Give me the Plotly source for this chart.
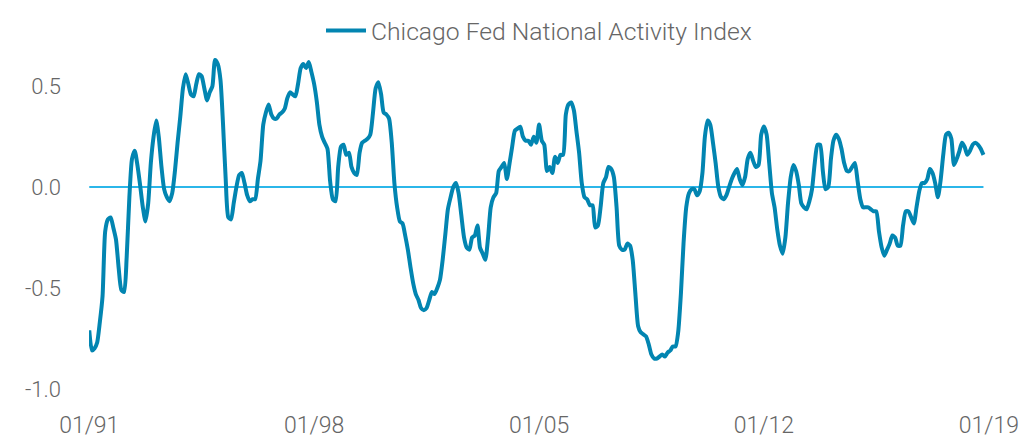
import pandas as pd
import plotly.graph_objects as go

# Monthly Chicago Fed National Activity Index readings, Jan 1991 onward
cfnai = [
    -0.71, -0.81, -0.80, -0.77, -0.67, -0.54, -0.22, -0.16, -0.15, -0.20,
    -0.26, -0.40, -0.51, -0.52, -0.35, -0.05, 0.14, 0.18, 0.11, 0.01,
    -0.10, -0.17, -0.08, 0.12, 0.25, 0.33, 0.25, 0.10, -0.01, -0.05,
    -0.07, -0.03, 0.08, 0.22, 0.35, 0.49, 0.56, 0.51, 0.46, 0.45,
    0.51, 0.56, 0.55, 0.49, 0.43, 0.47, 0.50, 0.63, 0.61, 0.53,
    0.32, 0.04, -0.15, -0.16, -0.08, 0.00, 0.06, 0.07, 0.02, -0.04,
    -0.07, -0.06, -0.06, 0.04, 0.13, 0.31, 0.37, 0.41, 0.36, 0.34,
    0.34, 0.36, 0.37, 0.39, 0.44, 0.47, 0.46, 0.45, 0.51, 0.59,
    0.61, 0.59, 0.62, 0.57, 0.51, 0.42, 0.31, 0.25, 0.22, 0.19,
    0.03, -0.06, -0.07, 0.10, 0.20, 0.21, 0.16, 0.17, 0.10, 0.07,
    0.06, 0.17, 0.22, 0.23, 0.24, 0.26, 0.37, 0.49, 0.52, 0.46,
    0.37, 0.36, 0.34, 0.22, 0.02, -0.10, -0.17, -0.18, -0.24, -0.31,
    -0.40, -0.48, -0.53, -0.56, -0.60, -0.61, -0.60, -0.56, -0.52, -0.53,
    -0.50, -0.46, -0.36, -0.23, -0.11, -0.05, 0.00, 0.02, -0.03, -0.14,
    -0.25, -0.30, -0.31, -0.25, -0.24, -0.19, -0.30, -0.33, -0.36, -0.25,
    -0.10, -0.05, -0.03, 0.08, 0.10, 0.12, 0.04, 0.12, 0.20, 0.28,
    0.29, 0.30, 0.25, 0.23, 0.23, 0.21, 0.25, 0.22, 0.31, 0.23,
    0.21, 0.08, 0.10, 0.07, 0.15, 0.12, 0.16, 0.16, 0.36, 0.41,
    0.42, 0.38, 0.28, 0.17, 0.02, -0.05, -0.06, -0.09, -0.09, -0.20,
    -0.19, -0.10, 0.02, 0.05, 0.10, 0.09, 0.05, -0.10, -0.29, -0.31,
    -0.31, -0.28, -0.29, -0.36, -0.53, -0.69, -0.72, -0.73, -0.74, -0.78,
    -0.83, -0.85, -0.85, -0.84, -0.83, -0.84, -0.82, -0.81, -0.79, -0.79,
    -0.72, -0.53, -0.28, -0.10, -0.03, -0.01, -0.01, -0.04, -0.02, 0.07,
    0.25, 0.33, 0.31, 0.22, 0.12, 0.00, -0.05, -0.06, -0.04, 0.00,
    0.04, 0.07, 0.09, 0.04, 0.01, 0.05, 0.14, 0.17, 0.13, 0.10,
    0.11, 0.26, 0.30, 0.26, 0.12, -0.03, -0.10, -0.21, -0.29, -0.33,
    -0.25, -0.08, 0.05, 0.11, 0.08, 0.01, -0.08, -0.10, -0.11, -0.07,
    -0.01, 0.12, 0.21, 0.21, 0.08, -0.01, 0.00, 0.14, 0.23, 0.26,
    0.24, 0.19, 0.12, 0.08, 0.08, 0.10, 0.12, 0.03, -0.06, -0.10,
    -0.10, -0.10, -0.11, -0.12, -0.12, -0.22, -0.30, -0.34, -0.31, -0.28,
    -0.24, -0.25, -0.29, -0.29, -0.19, -0.12, -0.12, -0.15, -0.18, -0.10,
    -0.02, 0.02, 0.02, 0.04, 0.09, 0.07, 0.02, -0.05, 0.03, 0.16,
    0.26, 0.27, 0.24, 0.11, 0.14, 0.18, 0.22, 0.20, 0.16, 0.18,
    0.21, 0.22, 0.21, 0.19, 0.16,
]
dates = pd.date_range("1991-01-01", periods=len(cfnai), freq="MS")

tick_dates = ["1991-01-01", "1998-01-01", "2005-01-01", "2012-01-01", "2019-01-01"]
tick_labels = ["01/91", "01/98", "01/05", "01/12", "01/19"]
y_ticks = [0.5, 0.0, -0.5, -1.0]
y_labels = ["0.5", "0.0", "-0.5", "-1.0"]

series_name = "Chicago Fed National Activity Index"
line_color = "#0285B1"
zero_color = "#2BB6E9"
text_color = "#666666"
font_family = "Roboto, 'Open Sans', sans-serif"

fig = go.Figure()
fig.add_trace(go.Scatter(
    x=dates, y=cfnai, mode="lines", name=series_name,
    line=dict(color=line_color, width=4, shape="spline", smoothing=0.6),
))

# zero reference line spanning the data
fig.add_shape(type="line", xref="x", yref="y",
              x0=dates[0], x1=dates[-1], y0=0, y1=0,
              line=dict(color=zero_color, width=2), layer="below")

# the page body adds an 8px offset, so the figure is sized/margined to compensate
fig.update_layout(
    width=1026, height=428,
    margin=dict(l=81, r=45, t=47, b=27, autoexpand=False),
    paper_bgcolor="white", plot_bgcolor="white",
    font=dict(family=font_family, size=22, color=text_color, weight=300),
    showlegend=True,
    legend=dict(orientation="h", x=0.5, xanchor="center",
                y=1.0, yanchor="top", yref="container",
                font=dict(size=24.7, color=text_color, weight=300),
                itemwidth=40),
    xaxis=dict(
        type="date", automargin=False,
        range=["1990-12-29", "2019-01-03"],
        tickvals=tick_dates, ticktext=tick_labels,
        showgrid=False, zeroline=False, showline=False, ticks="",
        tickfont=dict(size=23, color=text_color, weight=300),
        ticklabelstandoff=0,
    ),
    yaxis=dict(
        automargin=False,
        range=[-1.1, 0.655],
        tickvals=y_ticks, ticktext=y_labels,
        showgrid=False, zeroline=False, showline=False, ticks="",
        tickfont=dict(size=22, color=text_color, weight=300),
        ticklabelstandoff=27,
    ),
)

fig.write_html("out.html")
